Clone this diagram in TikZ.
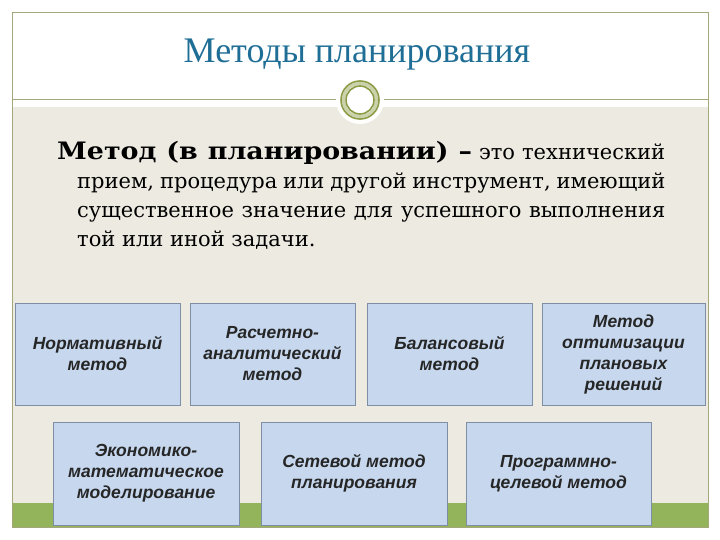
\documentclass[tikz,border=0pt]{standalone}
\usepackage{fontspec}
\setmainfont{Liberation Serif}
\newfontfamily\bodyfont{DejaVu Serif}
\newfontfamily\boldbodyfont[FakeStretch=1.12]{DejaVu Serif Bold}
\newfontfamily\boxfont{Liberation Sans}
\usetikzlibrary{shadows}
\definecolor{framegreen}{HTML}{A3A77A}
\definecolor{ringgreen}{HTML}{8C9B45}
\definecolor{titleblue}{HTML}{1F6E96}
\definecolor{slidebeige}{HTML}{EDEAE1}
\definecolor{bargreen}{HTML}{94B45C}
\definecolor{boxblue}{HTML}{C6D7EE}
\definecolor{boxedge}{HTML}{7E8EA5}
\tikzset{
  methodbox/.style={draw=boxedge,fill=boxblue,line width=0.6pt,align=center,inner sep=2pt,
    font=\boxfont\bfseries\itshape\fontsize{17.5}{21}\selectfont,text=black!85,
    drop shadow={shadow xshift=1.2pt,shadow yshift=-1.2pt,opacity=0.45}}
}
\newcommand{\methodbox}[6]{% x, y, width, height, name, text
  \node[methodbox,minimum width=#3pt,minimum height=#4pt] (#5) at (#1,#2) {#6};}

\begin{document}
\begin{tikzpicture}[x=1pt,y=-1pt]
  \useasboundingbox[fill=white] (0,0) rectangle (720,540);
  % slide background and frame
  \fill[slidebeige] (12.5,107) rectangle (707.5,503);
  \fill[bargreen] (12.5,503) rectangle (707.5,527);
  \draw[framegreen,line width=0.8pt] (12,12) rectangle (708,527);
  \draw[framegreen,line width=1pt] (12,100) -- (708,100);
  % ring ornament
  \fill[white] (360,100) circle (24);
  \draw[ringgreen!45,line width=3pt] (360,100) circle (16.5);
  \draw[ringgreen,line width=1.6pt] (360,100) circle (19);
  \draw[ringgreen,line width=1.6pt] (360,100) circle (14);
  % title
  \node[anchor=base,font=\fontsize{36}{40}\selectfont,text=titleblue] (title) at (357,63) {Методы планирования};
  % definition
  \node[anchor=north west,align=left,inner sep=0,font=\bodyfont\fontsize{21}{29}\selectfont] (defn) at (57,141)
    {\makebox[608pt][s]{{\boldbodyfont\fontsize{24}{29}\selectfont Метод (в планировании) –} это технический}\\
     \hspace*{20pt}\makebox[588pt][s]{прием, процедура или другой инструмент, имеющий}\\
     \hspace*{20pt}\makebox[588pt][s]{существенное значение для успешного выполнения}\\
     \hspace*{20pt}той или иной задачи.};
  % first row of methods
  \methodbox{97.5}{354}{165}{102}{norm}{Нормативный\\метод}
  \methodbox{272.5}{354}{165}{102}{calc}{Расчетно-\\аналитический\\метод}
  \methodbox{449.5}{354}{165}{102}{bal}{Балансовый\\метод}
  \methodbox{623.5}{354}{163}{102}{opt}{Метод\\оптимизации\\плановых\\решений}
  % second row of methods
  \methodbox{146}{473.5}{186}{103}{econ}{Экономико-\\математическое\\моделирование}
  \methodbox{354}{473.5}{186}{103}{net}{Сетевой метод\\планирования}
  \methodbox{558.5}{473.5}{185}{103}{prog}{Программно-\\целевой метод}
\end{tikzpicture}
\end{document}
